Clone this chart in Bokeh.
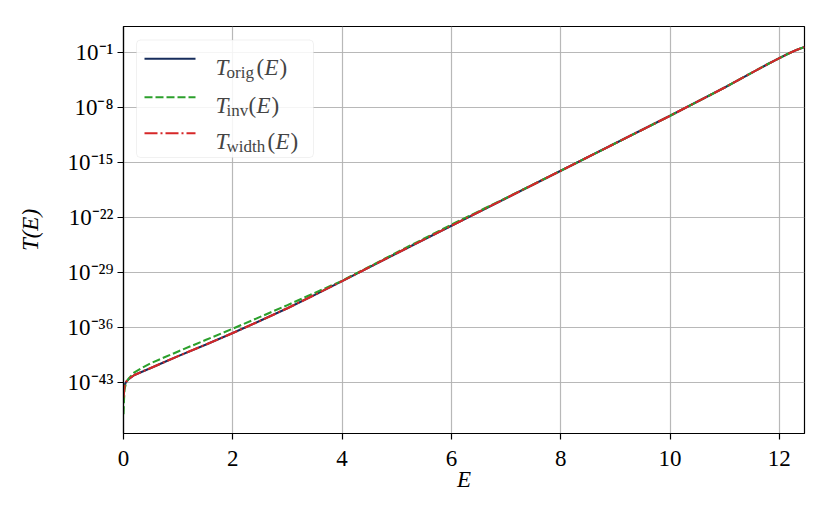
from bokeh.plotting import figure
from bokeh.models import Range1d, FixedTicker, Label, BoxAnnotation
from bokeh.embed import file_html
from bokeh.resources import INLINE

# ---------------- data ----------------
E = [0.0, 0.01, 0.02, 0.05, 0.1, 0.2, 0.35, 0.5, 0.75, 1.0, 1.5, 2.0, 2.5, 3.0,
     3.5, 4.0, 5.0, 6.0, 7.0, 8.0, 9.0, 10.0, 11.0, 11.5, 11.8, 12.0, 12.15, 12.3, 12.46]
T_orig = [2.5e-45, 1.26e-44, 5.0e-44, 1.41e-43, 3.2e-43, 1.0e-42, 2.8e-42, 7.9e-42,
          4.5e-41, 2.5e-40, 7.1e-39, 2.2e-37, 7.9e-36, 3.2e-34, 1.6e-32, 8.9e-31,
          3.2e-27, 1.0e-23, 3.2e-20, 1.0e-16, 3.2e-13, 1.0e-09, 4.0e-06, 3.2e-04,
          4.2e-03, 2.2e-02, 7.4e-02, 0.22, 0.56]
T_inv = [1.0e-47, 1.0e-45, 1.6e-44, 1.26e-43, 4.0e-43, 2.2e-42, 8.9e-42, 3.2e-41,
         1.8e-40, 1.0e-39, 2.8e-38, 7.9e-37, 2.5e-35, 7.9e-34, 2.8e-32, 1.0e-30,
         4.0e-27, 1.4e-23, 3.5e-20, 1.0e-16, 3.2e-13, 1.0e-09, 4.0e-06, 3.2e-04,
         4.2e-03, 2.2e-02, 7.4e-02, 0.22, 0.56]
T_width = [1.26e-45, 1.0e-44, 4.5e-44, 1.41e-43, 3.2e-43, 1.0e-42, 2.8e-42, 7.9e-42,
           4.5e-41, 2.5e-40, 7.1e-39, 2.2e-37, 7.9e-36, 3.2e-34, 1.6e-32, 8.9e-31,
           3.2e-27, 1.0e-23, 3.2e-20, 1.0e-16, 3.2e-13, 1.0e-09, 4.0e-06, 3.2e-04,
           4.2e-03, 2.2e-02, 7.4e-02, 0.22, 0.56]

x_ticks = [0, 2, 4, 6, 8, 10, 12]
y_ticks = [1e-1, 1e-8, 1e-15, 1e-22, 1e-29, 1e-36, 1e-43]
y_tick_labels = ["10\u207b\u00b9", "10\u207b\u2078", "10\u207b\u00b9\u2075", "10\u207b\u00b2\u00b2",
                 "10\u207b\u00b2\u2079", "10\u207b\u00b3\u2076", "10\u207b\u2074\u00b3"]

legend_main = ["T", "T", "T"]
legend_sub = ["orig", "inv", "width"]
legend_arg = ["E", "E", "E"]

# ---------------- layout / style ----------------
FONT_I = "Liberation Serif"        # italic texts
FONT_X = "Times New Roman"         # upright texts (x axis, legend)
FONT_Y = "Liberation Serif"        # upright texts (y axis)
NAVY = "#172d5c"
GREEN = "#2ca02c"
RED = "#d62728"
DASH_INV = "8 3"
DASH_WIDTH = "13 3 2 3"

X_MIN, X_MAX = 0.0, 12.46
LOG_MIN, LOG_MAX = -49.45, 2.37
FRAME_L, FRAME_T = 123, 26          # page pixels of the frame's top-left corner
FRAME_W, FRAME_H = 681, 407


def px_E(px):
    return X_MIN + (px - FRAME_L) / FRAME_W * (X_MAX - X_MIN)


def py_T(py):
    return 10 ** (LOG_MAX - (py - FRAME_T) / FRAME_H * (LOG_MAX - LOG_MIN))


p = figure(frame_width=FRAME_W, frame_height=FRAME_H,
           x_range=Range1d(X_MIN, X_MAX),
           y_range=Range1d(10 ** LOG_MIN, 10 ** LOG_MAX),
           y_axis_type="log", output_backend="svg", toolbar_location=None,
           min_border_left=FRAME_L, min_border_top=FRAME_T,
           min_border_right=20, min_border_bottom=78,
           background_fill_color="white", border_fill_color="white")

p.outline_line_color = "black"
p.outline_line_width = 1.2
p.outline_line_alpha = 1.0

# axes
p.xaxis.ticker = FixedTicker(ticks=x_ticks)
p.yaxis.ticker = FixedTicker(ticks=y_ticks)
for ax in (p.xaxis, p.yaxis):
    ax.axis_line_color = "black"
    ax.axis_line_width = 1.2
    ax.major_tick_line_color = "black"
    ax.major_tick_line_width = 1.2
    ax.major_tick_out = 6
    ax.major_tick_in = 0
    ax.minor_tick_line_color = None
    ax.axis_label_text_font = FONT_I
    ax.axis_label_text_font_size = "23px"
    ax.axis_label_text_font_style = "italic"
    ax.axis_label_text_color = "black"
    ax.major_label_text_font_size = "23px"
    ax.major_label_text_color = "black"

p.xaxis.major_label_text_font = FONT_X
p.xaxis.major_label_standoff = 11
p.xaxis.axis_label = "E"
p.xaxis.axis_label_standoff = -2

p.yaxis.major_label_text_font = FONT_Y
p.yaxis.major_label_overrides = {t: lab for t, lab in zip(y_ticks, y_tick_labels)}
p.yaxis.major_label_standoff = 4
p.yaxis.axis_label = "T(E)"
p.yaxis.axis_label_standoff = 22

# grid
for g in (p.xgrid, p.ygrid):
    g.grid_line_color = "#b0b0b0"
    g.grid_line_width = 1.2
    g.grid_line_alpha = 0.9

# curves
p.line(E, T_orig, line_color=NAVY, line_width=2.1)
p.line(E, T_inv, line_color=GREEN, line_width=2.1, line_dash=DASH_INV)
p.line(E, T_width, line_color=RED, line_width=2.1, line_dash=DASH_WIDTH)

# legend box
p.add_layout(BoxAnnotation(left=px_E(136), right=px_E(313), top=py_T(39.5), bottom=py_T(157),
                           fill_color="white", fill_alpha=0.85, line_color="#d0d0d0",
                           line_width=1, border_radius=4, level="annotation"))

rows = [58.3, 96.7, 132.7]
styles = [dict(line_color=NAVY), dict(line_color=GREEN, line_dash=DASH_INV),
          dict(line_color=RED, line_dash=DASH_WIDTH)]
paren_x = [256, 248, 267]
for row, st, m, s, a, px0 in zip(rows, styles, legend_main, legend_sub, legend_arg, paren_x):
    p.line([px_E(144), px_E(195)], [py_T(row), py_T(row)], line_width=2.1, level="overlay", **st)
    base = py_T(row + 8.7)
    sub = py_T(row + 13.7)
    p.add_layout(Label(x=px_E(215), y=base, text=m, text_font=FONT_I, text_font_size="23px",
                       text_font_style="italic", text_baseline="alphabetic", level="overlay"))
    p.add_layout(Label(x=px_E(226), y=sub, text=s, text_font=FONT_X, text_font_size="17px",
                       text_baseline="alphabetic", level="overlay"))
    p.add_layout(Label(x=px_E(px0), y=base, text="(", text_font=FONT_X, text_font_size="23px",
                       text_baseline="alphabetic", level="overlay"))
    p.add_layout(Label(x=px_E(px0 + 8), y=base, text=a, text_font=FONT_I, text_font_size="23px",
                       text_font_style="italic", text_baseline="alphabetic", level="overlay"))
    p.add_layout(Label(x=px_E(px0 + 23), y=base, text=")", text_font=FONT_X, text_font_size="23px",
                       text_baseline="alphabetic", level="overlay"))

open("out.html", "w").write(file_html(p, INLINE))
